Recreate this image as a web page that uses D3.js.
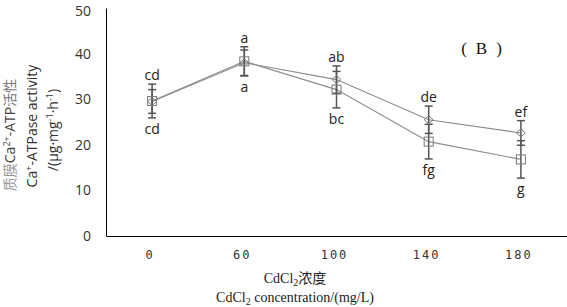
<!DOCTYPE html>
<html><head><meta charset="utf-8">
<script src="https://cdn.jsdelivr.net/npm/d3@7"></script>
<style>body{margin:0;background:#fff}svg{display:block}</style>
</head><body><svg id="c" width="567" height="307"></svg>
<script>
const categories = ["0","60","100","140","180"];
const diamondValues = [29.5, 38.0, 34.3, 25.5, 22.6];
const diamondErrors = [2.6, 2.8, 3.0, 3.0, 2.7];
const squareValues  = [29.6, 38.3, 32.1, 20.7, 16.8];
const squareErrors  = [3.7, 3.2, 4.0, 3.8, 4.1];
const lettersTop    = ["cd","a","ab","de","ef"];
const lettersBottom = ["cd","a","bc","fg","g"];
const yTicks = [0,10,20,30,40,50];

const svg = d3.select("#c");
const x = d3.scaleBand().domain(categories).range([106, 567]).padding(0);
const y = d3.scaleLinear().domain([0, 50]).range([236, 8]);
const cx = c => x(c) + x.bandwidth()/2;

// axes
const yAxis = svg.append("g").attr("transform","translate(106,0)")
  .call(d3.axisLeft(y).tickValues(yTicks).tickSize(0).tickPadding(15));
yAxis.select(".domain").attr("stroke","#000").attr("stroke-width",1);
yAxis.selectAll("text").attr("font-family","'Open Sans',sans-serif").attr("font-size",14).attr("fill","#333")
  .attr("dy", d => d === 50 ? "0.5em" : "0.32em");

const xAxis = svg.append("g").attr("transform","translate(0,236)")
  .call(d3.axisBottom(x).tickSize(0).tickPadding(14));
xAxis.select(".domain").attr("stroke","#000").attr("stroke-width",1);
xAxis.selectAll("text").attr("font-family","'DejaVu Sans Mono',monospace").attr("font-size",12)
  .attr("letter-spacing","2px").attr("fill","#333").attr("dx","-2");

// lines
const series = [
  {vals: diamondValues, errs: diamondErrors, shape: "diamond"},
  {vals: squareValues, errs: squareErrors, shape: "square"}
];
const line = d3.line().x((d,i)=>cx(categories[i])).y(d=>y(d));
series.forEach(s=>{
  svg.append("path").datum(s.vals).attr("d",line).attr("fill","none")
    .attr("stroke","#8c8c8c").attr("stroke-width",1.1);
});
// error bars
series.forEach(s=>{
  const g = svg.append("g").attr("stroke","#555").attr("stroke-width",1.5);
  s.vals.forEach((v,i)=>{
    const px = cx(categories[i]);
    const t = y(v + s.errs[i]), b = y(v - s.errs[i]);
    g.append("line").attr("x1",px).attr("x2",px).attr("y1",t).attr("y2",b);
    g.append("line").attr("x1",px-4).attr("x2",px+4).attr("y1",t).attr("y2",t);
    g.append("line").attr("x1",px-4).attr("x2",px+4).attr("y1",b).attr("y2",b);
  });
});
// markers
series.forEach(s=>{
  s.vals.forEach((v,i)=>{
    const px = cx(categories[i]), py = y(v);
    if (s.shape === "square") {
      svg.append("rect").attr("x",px-4.5).attr("y",py-4.5).attr("width",9).attr("height",9)
        .attr("fill","none").attr("stroke","#7a7a7a").attr("stroke-width",1);
    } else {
      svg.append("path").attr("d",`M${px},${py-4}L${px+4.5},${py}L${px},${py+4}L${px-4.5},${py}Z`)
        .attr("fill","none").attr("stroke","#7a7a7a").attr("stroke-width",1);
    }
  });
});
// letters
categories.forEach((c,i)=>{
  const top = Math.max(diamondValues[i]+diamondErrors[i], squareValues[i]+squareErrors[i]);
  const bot = Math.min(diamondValues[i]-diamondErrors[i], squareValues[i]-squareErrors[i]);
  svg.append("text").attr("x",cx(c)).attr("y",y(top)-4).attr("text-anchor","middle")
    .attr("font-family","'Open Sans',sans-serif").attr("font-size",14).attr("fill","#222").text(lettersTop[i]);
  svg.append("text").attr("x",cx(c)).attr("y",y(bot)+16).attr("text-anchor","middle")
    .attr("font-family","'Open Sans',sans-serif").attr("font-size",14).attr("fill","#222").text(lettersBottom[i]);
});

// panel label
svg.append("text").attr("x",486).attr("y",54).attr("text-anchor","middle")
  .attr("font-family","'Liberation Serif',serif").attr("font-size",17).attr("fill","#111")
  .attr("letter-spacing","9px").text("(B)");

// x title
const xt1 = svg.append("text").attr("x",295).attr("y",283).attr("text-anchor","middle")
  .attr("font-family","'Liberation Serif','Noto Sans CJK SC',serif").attr("font-size",14).attr("fill","#222");
xt1.append("tspan").text("CdCl");
xt1.append("tspan").attr("font-size",10).attr("dy",3).text("2");
xt1.append("tspan").attr("dy",-3).text("浓度");
const xt2 = svg.append("text").attr("x",295).attr("y",302).attr("text-anchor","middle")
  .attr("font-family","'Liberation Serif',serif").attr("font-size",14).attr("fill","#222");
xt2.append("tspan").text("CdCl");
xt2.append("tspan").attr("font-size",10).attr("dy",3).text("2");
xt2.append("tspan").attr("dy",-3).text(" concentration/(mg/L)");

// y title
const yt = svg.append("g").attr("font-family","'Open Sans','Noto Sans CJK SC',sans-serif").attr("font-size",14);
const l1 = yt.append("text").attr("transform","translate(15,135) rotate(-90)").attr("text-anchor","middle").attr("fill","#444");
l1.append("tspan").attr("fill","#999").attr("font-family","'Noto Sans CJK SC',serif").text("质膜");
l1.append("tspan").text("Ca");
l1.append("tspan").attr("font-size",9).attr("dy",-5).text("2+");
l1.append("tspan").attr("dy",5).text("-ATP");
l1.append("tspan").attr("fill","#777").text("活性");
const l2 = yt.append("text").attr("transform","translate(37,126) rotate(-90)").attr("text-anchor","middle").attr("fill","#333");
l2.append("tspan").text("Ca");
l2.append("tspan").attr("font-size",9).attr("dy",-5).text("+");
l2.append("tspan").attr("dy",5).text("-ATPase activity");
const l3 = yt.append("text").attr("transform","translate(58,130) rotate(-90)").attr("text-anchor","middle").attr("fill","#333");
l3.append("tspan").text("/(μg·mg");
l3.append("tspan").attr("font-size",9).attr("dy",-5).text("-1");
l3.append("tspan").attr("dy",5).text("·h");
l3.append("tspan").attr("font-size",9).attr("dy",-5).text("-1");
l3.append("tspan").attr("dy",5).text(")");
</script></body></html>
